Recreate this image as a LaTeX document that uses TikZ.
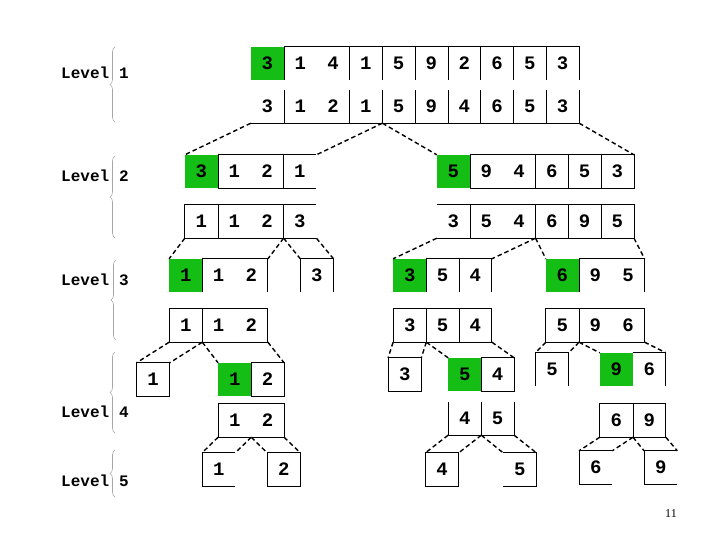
\documentclass[tikz,border=0pt]{standalone}
\usepackage{fontspec}
\setmainfont{Liberation Serif}
\setmonofont{Liberation Mono}
\usetikzlibrary{decorations.pathreplacing,backgrounds}

\definecolor{pivotgreen}{RGB}{20,190,20}

% one row of cells: name, left x, top y, values
\newcommand{\cellrow}[4]{%
  \foreach \v [count=\i] in {#4}
    \node[cell] (#1-\i) at ({#2+(\i-0.5)*32.8}, {#3+16.5}) {\v};
}

\begin{document}
\begin{tikzpicture}[x=1pt, y=-1pt,
    every node/.style={inner sep=0pt},
    cell/.style={minimum width=32.8pt, minimum height=33pt, font=\fontsize{19}{19}\selectfont\ttfamily\bfseries},
    rim/.style={draw=black, line width=0.9pt},
    link/.style={line width=1.4pt, dash pattern=on 4.5pt off 3pt},
    lvl/.style={font=\fontsize{16}{16}\selectfont\ttfamily\bfseries},
    lvbrace/.style={decorate, decoration={brace, amplitude=5pt}, draw=gray!70, line width=0.6pt}]
    \useasboundingbox (0,0) rectangle (720,540);

    % level labels
    \node[lvl, anchor=west] (lab1) at (61,73) {Level};
    \node[lvl] (num1) at (124,73) {1};
    \node[lvl, anchor=west] (lab2) at (61,176) {Level};
    \node[lvl] (num2) at (124,176) {2};
    \node[lvl, anchor=west] (lab3) at (61,280) {Level};
    \node[lvl] (num3) at (124,280) {3};
    \node[lvl, anchor=west] (lab4) at (61,412) {Level};
    \node[lvl] (num4) at (124,412) {4};
    \node[lvl, anchor=west] (lab5) at (61,481) {Level};
    \node[lvl] (num5) at (124,481) {5};

    \draw[lvbrace] (115,122) -- (115,47);
    \draw[lvbrace] (115,238) -- (115,156);
    \draw[lvbrace] (116,340) -- (116,260);
    \draw[lvbrace] (115,433) -- (115,352);
    \draw[lvbrace] (115,497) -- (115,450);

    % level 1
    \cellrow{r1}{251}{47}{3,1,4,1,5,9,2,6,5,3}
    \draw[rim] (r1-1.north east) -- (r1-10.north east) -- (r1-10.south east);
    \foreach \k in {1,3,4,...,9} \draw[rim] (r1-\k.north east) -- (r1-\k.south east);
    \cellrow{q1}{251}{90}{3,1,2,1,5,9,4,6,5,3}
    \draw[rim] (q1-1.south west) -- (q1-10.south east) -- (q1-10.north east);
    \foreach \k in {1,3,4,...,9} \draw[rim] (q1-\k.north east) -- (q1-\k.south east);

    % level 2
    \cellrow{r2l}{185}{155}{3,1,2,1}
    \draw[rim] (r2l-1.north east) -- (r2l-4.north east);
    \draw[rim] (r2l-1.south east) -- (r2l-4.south east);
    \foreach \k in {1,3} \draw[rim] (r2l-\k.north east) -- (r2l-\k.south east);
    \cellrow{q2l}{185}{205}{1,1,2,3}
    \draw[rim] (q2l-4.north east) -- (q2l-1.north west) -- (q2l-1.south west) -- (q2l-4.south east);
    \foreach \k in {1,3} \draw[rim] (q2l-\k.north east) -- (q2l-\k.south east);

    \cellrow{r2r}{437}{155}{5,9,4,6,5,3}
    \draw[rim] (r2r-1.north east) -- (r2r-6.north east) -- (r2r-6.south east) -- (r2r-1.south east);
    \foreach \k in {1,3,4,5} \draw[rim] (r2r-\k.north east) -- (r2r-\k.south east);
    \cellrow{q2r}{437}{205}{3,5,4,6,9,5}
    \draw[rim] (q2r-1.north west) -- (q2r-6.north east) -- (q2r-6.south east) -- (q2r-1.south west);
    \foreach \k in {1,3,4,5} \draw[rim] (q2r-\k.north east) -- (q2r-\k.south east);

    % level 3
    \cellrow{r3a}{169.3}{259}{1,1,2,,3}
    \draw[rim] (r3a-1.north east) -- (r3a-3.north east) -- (r3a-3.south east);
    \draw[rim] (r3a-1.north east) -- (r3a-1.south east);
    \draw[rim] (r3a-5.south west) -- (r3a-5.north west) -- (r3a-5.north east) -- (r3a-5.south east);
    \cellrow{q3a}{169.3}{309}{1,1,2}
    \draw[rim] (q3a-1.north west) rectangle (q3a-3.south east);
    \draw[rim] (q3a-1.north east) -- (q3a-1.south east);

    \cellrow{r3b}{393.3}{259}{3,5,4}
    \draw[rim] (r3b-1.north east) -- (r3b-3.north east) -- (r3b-3.south east);
    \foreach \k in {1,2} \draw[rim] (r3b-\k.north east) -- (r3b-\k.south east);
    \cellrow{q3b}{393.3}{309}{3,5,4}
    \draw[rim] (q3b-1.north west) rectangle (q3b-3.south east);
    \foreach \k in {1,2} \draw[rim] (q3b-\k.north east) -- (q3b-\k.south east);

    \cellrow{r3c}{546}{259}{6,9,5}
    \draw[rim] (r3c-1.north east) -- (r3c-3.north east) -- (r3c-3.south east);
    \draw[rim] (r3c-1.north east) -- (r3c-1.south east);
    \cellrow{q3c}{546}{309}{5,9,6}
    \draw[rim] (q3c-1.north west) rectangle (q3c-3.south east);
    \draw[rim] (q3c-1.north east) -- (q3c-1.south east);

    % level 4
    \cellrow{r4a}{136.7}{363}{1}
    \draw[rim] (r4a-1.north west) rectangle (r4a-1.south east);
    \cellrow{r4b}{218.3}{363}{1,2}
    \draw[rim] (r4b-1.north east) -- (r4b-2.north east) -- (r4b-2.south east) -- (r4b-1.south east) -- cycle;
    \cellrow{q4b}{218.3}{404}{1,2}
    \draw[rim] (q4b-1.north west) rectangle (q4b-2.south east);

    \cellrow{r4c}{388.3}{358}{3}
    \draw[rim] (r4c-1.north west) rectangle (r4c-1.south east);
    \cellrow{r4d}{448.3}{358}{5,4}
    \draw[rim] (r4d-1.north east) -- (r4d-2.north east) -- (r4d-2.south east) -- (r4d-1.south east) -- cycle;
    \cellrow{q4d}{448.3}{402}{4,5}
    \draw[rim] (q4d-1.north west) -- (q4d-1.south west) -- (q4d-2.south east) -- (q4d-2.north east);
    \draw[rim] (q4d-1.north east) -- (q4d-1.south east);

    \cellrow{r4e}{535.7}{353}{5}
    \draw[rim] (r4e-1.south west) -- (r4e-1.north west) -- (r4e-1.north east) -- (r4e-1.south east);
    \cellrow{r4f}{600}{353}{9,6}
    \draw[rim] (r4f-1.north east) -- (r4f-2.north east) -- (r4f-2.south east);
    \cellrow{q4f}{600}{404}{6,9}
    \draw[rim] (q4f-1.north west) rectangle (q4f-2.south east);
    \draw[rim] (q4f-1.north east) -- (q4f-1.south east);

    % level 5
    \cellrow{r5a}{202.3}{453}{1}
    \draw[rim] (r5a-1.north east) -- (r5a-1.north west) -- (r5a-1.south west) -- (r5a-1.south east);
    \cellrow{r5b}{267.3}{453}{2}
    \draw[rim] (r5b-1.north west) rectangle (r5b-1.south east);
    \cellrow{r5c}{425.7}{453}{4}
    \draw[rim] (r5c-1.north west) rectangle (r5c-1.south east);
    \cellrow{r5d}{503.3}{453}{5}
    \draw[rim] (r5d-1.north west) -- (r5d-1.north east) -- (r5d-1.south east) -- (r5d-1.south west);
    \cellrow{r5e}{579.3}{451}{6}
    \draw[rim] (r5e-1.north east) -- (r5e-1.north west) -- (r5e-1.south west) -- (r5e-1.south east);
    \cellrow{r5f}{644.3}{451}{9}
    \draw[rim] (r5f-1.north east) -- (r5f-1.north west) -- (r5f-1.south west) -- (r5f-1.south east);

    % pivots
    \begin{scope}[on background layer]
      \foreach \n in {r1-1,r2l-1,r2r-1,r3a-1,r3b-1,r3c-1,r4b-1,r4d-1,r4f-1}
        \fill[pivotgreen] (\n.north west) rectangle (\n.south east);
    \end{scope}

    % dashed splits
    \foreach \a/\b in {q1-1.south west/r2l-1.north west, q1-4.south east/r2l-4.north east,
        q1-4.south east/r2r-1.north west, q1-10.south east/r2r-6.north east,
        q2l-1.south west/r3a-1.north west, q2l-3.south east/r3a-3.north east,
        q2l-3.south east/r3a-5.north west, q2l-4.south east/r3a-5.north east,
        q2r-1.south west/r3b-1.north west, q2r-3.south east/r3b-3.north east,
        q2r-3.south east/r3c-1.north west, q2r-6.south east/r3c-3.north east,
        q3a-1.south west/r4a-1.north west, q3a-1.south east/r4a-1.north east,
        q3a-1.south east/r4b-1.north west, q3a-3.south east/r4b-2.north east,
        q3b-1.south west/r4c-1.north west, q3b-1.south east/r4c-1.north east,
        q3b-1.south east/r4d-1.north west, q3b-3.south east/r4d-2.north east,
        q3c-1.south west/r4e-1.north west, q3c-1.south east/r4e-1.north east,
        q3c-1.south east/r4f-1.north west, q3c-3.south east/r4f-2.north east,
        q4b-1.south west/r5a-1.north west, q4b-1.south east/r5a-1.north east,
        q4b-1.south east/r5b-1.north west, q4b-2.south east/r5b-1.north east,
        q4d-1.south west/r5c-1.north west, q4d-1.south east/r5c-1.north east,
        q4d-1.south east/r5d-1.north west, q4d-2.south east/r5d-1.north east,
        q4f-1.south west/r5e-1.north west, q4f-1.south east/r5e-1.north east,
        q4f-1.south east/r5f-1.north west, q4f-2.south east/r5f-1.north east}
      \draw[link] (\a) -- (\b);

    \node[font=\fontsize{12}{12}\selectfont] (page) at (671,514) {11};
\end{tikzpicture}
\end{document}
